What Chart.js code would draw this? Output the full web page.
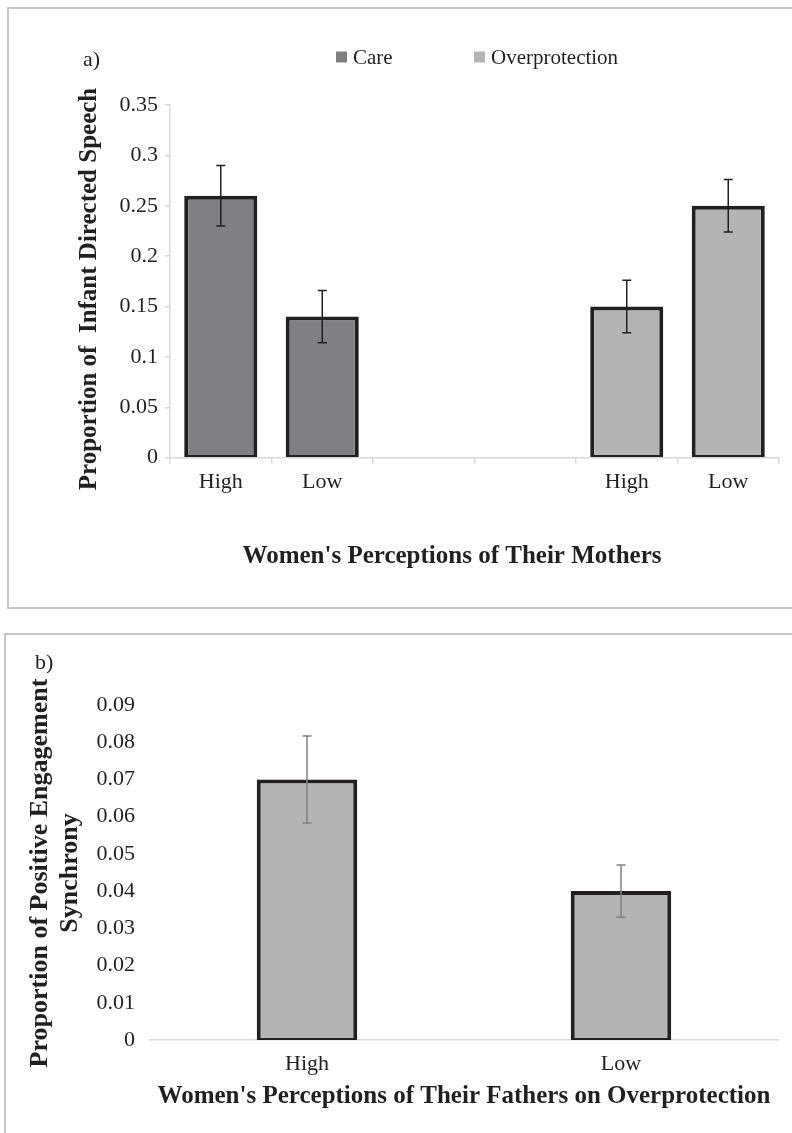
<!DOCTYPE html>
<html>
<head>
<meta charset="utf-8">
<script src="https://cdn.jsdelivr.net/npm/chart.js@4.4.0/dist/chart.umd.min.js"></script>
<style>
  body { margin: 0; background: #fff; width: 792px; height: 1133px; overflow: hidden; position: relative; }
  .panel { position: absolute; border: 2px solid #c6c6c6; border-right: none; }
  .box { position: absolute; left: 0; width: 792px; }
</style>
</head>
<body>
<div class="panel" style="left:7px;top:7px;width:800px;height:598px;"></div>
<div class="panel" style="left:4px;top:633px;width:800px;height:520px;border-bottom:none;"></div>
<div class="box" style="top:0;height:605px;"><canvas id="chartA"></canvas></div>
<div class="box" style="top:636px;height:497px;"><canvas id="chartB"></canvas></div>
<script>
// panel a) - mothers
var categories = ['High', 'Low', '', '', 'High', 'Low'];
var careValues = [0.26, 0.14, null, null, null, null];
var careErrors = [0.03, 0.026, null, null, null, null];
var overValues = [null, null, null, null, 0.15, 0.25];
var overErrors = [null, null, null, null, 0.026, 0.026];
var yTicksA = [0, 0.35, 0.05];

// panel b) - fathers
var fatherCategories = ['High', 'Low'];
var fatherValues = [0.07, 0.04];
var fatherErrors = [0.0117, 0.007];
var yTicksB = [0, 0.09, 0.01];

var ink = '#231f20';
var serif = '"Liberation Serif", "Times New Roman", serif';

function fmt(v) { return String(+v.toFixed(2)); }

// error bars drawn from the error arrays through the chart's scales
function errorBars(errs, color) {
	return {
		id: 'errorBars',
		afterDatasetsDraw: function(chart) {
			var ctx = chart.ctx, y = chart.scales.y;
			ctx.save();
			ctx.strokeStyle = color;
			ctx.lineWidth = 1.5;
			chart.data.datasets.forEach(function(ds, i) {
				chart.getDatasetMeta(i).data.forEach(function(bar, j) {
					var v = ds.data[j], e = errs[i][j];
					if (v == null || e == null) return;
					var top = y.getPixelForValue(v + e), bot = y.getPixelForValue(v - e);
					ctx.beginPath();
					ctx.moveTo(bar.x, top); ctx.lineTo(bar.x, bot);
					ctx.moveTo(bar.x - 4.5, top); ctx.lineTo(bar.x + 4.5, top);
					ctx.moveTo(bar.x - 4.5, bot); ctx.lineTo(bar.x + 4.5, bot);
					ctx.stroke();
				});
			});
			ctx.restore();
		}
	};
}

// panel letter, axis titles and the legend
function labels(items, legend) {
	return {
		id: 'labels',
		afterDraw: function(chart) {
			var ctx = chart.ctx;
			items.forEach(function(t) {
				ctx.save();
				ctx.translate(t.x, t.y);
				if (t.rot) ctx.rotate(-Math.PI / 2);
				ctx.font = t.font;
				ctx.fillStyle = ink;
				ctx.textAlign = t.align || 'center';
				ctx.textBaseline = 'middle';
				ctx.fillText(t.text, 0, 0);
				ctx.restore();
			});
			if (!legend) return;
			chart.data.datasets.forEach(function(ds, i) {
				var x = legend.x[i], y = legend.y;
				ctx.fillStyle = ds.backgroundColor;
				ctx.fillRect(x, y - 5.5, 11, 11);
				ctx.fillStyle = ink;
				ctx.font = '21px ' + serif;
				ctx.textAlign = 'left';
				ctx.textBaseline = 'middle';
				ctx.fillText(ds.label, x + 17, y + 1);
			});
		}
	};
}

var barBorder = { top: 4, left: 4, right: 4, bottom: 2 };

var ctxA = document.getElementById('chartA').getContext('2d');
var chartA = new Chart(ctxA, {
	type: 'bar',
	data: {
		labels: categories,
		datasets: [{
			label: 'Care',
			data: careValues,
			backgroundColor: '#7f8083',
			borderColor: ink,
			borderWidth: barBorder,
			borderSkipped: false
		}, {
			label: 'Overprotection',
			data: overValues,
			backgroundColor: '#b3b4b6',
			borderColor: ink,
			borderWidth: barBorder,
			borderSkipped: false
		}]
	},
	options: {
		animation: false,
		responsive: true,
		maintainAspectRatio: false,
		layout: { padding: { left: 0, right: 13, top: 105, bottom: 0 } },
		datasets: { bar: { grouped: false } },
		plugins: { legend: { display: false }, tooltip: { enabled: false } },
		scales: {
			x: {
				grid: { drawOnChartArea: false, tickLength: 6, color: '#d9d9d9', lineWidth: 1.5 },
				border: { color: '#d9d9d9', width: 1.5 },
				ticks: { color: ink, font: { family: serif, size: 22 }, padding: 5, maxRotation: 0 },
				afterFit: function(s) { s.height = 147.3; }
			},
			y: {
				min: yTicksA[0], max: yTicksA[1],
				grid: { drawOnChartArea: false, tickLength: 5, color: '#d9d9d9', lineWidth: 1.5 },
				border: { color: '#d9d9d9', width: 1.5 },
				ticks: { stepSize: yTicksA[2], color: ink, font: { family: serif, size: 22 }, padding: 7, callback: fmt },
				afterFit: function(s) { s.width = 170; }
			}
		}
	},
	plugins: [errorBars([careErrors, overErrors], ink), labels([
		{ text: 'a)', x: 83, y: 60, align: 'left', font: '22px ' + serif },
		{ text: 'Proportion of  Infant Directed Speech', x: 90, y: 289, rot: true, font: 'bold 25px ' + serif },
		{ text: "Women's Perceptions of Their Mothers", x: 452, y: 557, font: 'bold 25px ' + serif }
	], { x: [336, 474], y: 57 })]
});

var ctxB = document.getElementById('chartB').getContext('2d');
var chartB = new Chart(ctxB, {
	type: 'bar',
	data: {
		labels: fatherCategories,
		datasets: [{
			label: 'Overprotection',
			data: fatherValues,
			backgroundColor: '#b3b4b6',
			borderColor: ink,
			borderWidth: barBorder,
			borderSkipped: false,
			categoryPercentage: 0.8,
			barPercentage: 0.4
		}]
	},
	options: {
		animation: false,
		responsive: true,
		maintainAspectRatio: false,
		layout: { padding: { left: 0, right: 14, top: 69, bottom: 0 } },
		plugins: { legend: { display: false }, tooltip: { enabled: false } },
		scales: {
			x: {
				grid: { display: false, drawTicks: false },
				border: { color: '#d9d9d9', width: 1.5 },
				ticks: { color: ink, font: { family: serif, size: 22 }, padding: 11, maxRotation: 0 },
				afterFit: function(s) { s.height = 93; }
			},
			y: {
				min: yTicksB[0], max: yTicksB[1],
				grid: { display: false, drawTicks: false },
				border: { display: false },
				ticks: { stepSize: yTicksB[2], color: ink, font: { family: serif, size: 22 }, padding: 15, callback: fmt },
				afterFit: function(s) { s.width = 150; }
			}
		}
	},
	plugins: [errorBars([fatherErrors], '#808080'), labels([
		{ text: 'b)', x: 35, y: 27, align: 'left', font: '22px ' + serif },
		{ text: 'Proportion of Positive Engagement', x: 40, y: 237, rot: true, font: 'bold 26px ' + serif },
		{ text: 'Synchrony', x: 70, y: 237, rot: true, font: 'bold 26px ' + serif },
		{ text: "Women's Perceptions of Their Fathers on Overprotection", x: 464, y: 461, font: 'bold 25px ' + serif }
	], null)]
});
</script>
</body>
</html>
